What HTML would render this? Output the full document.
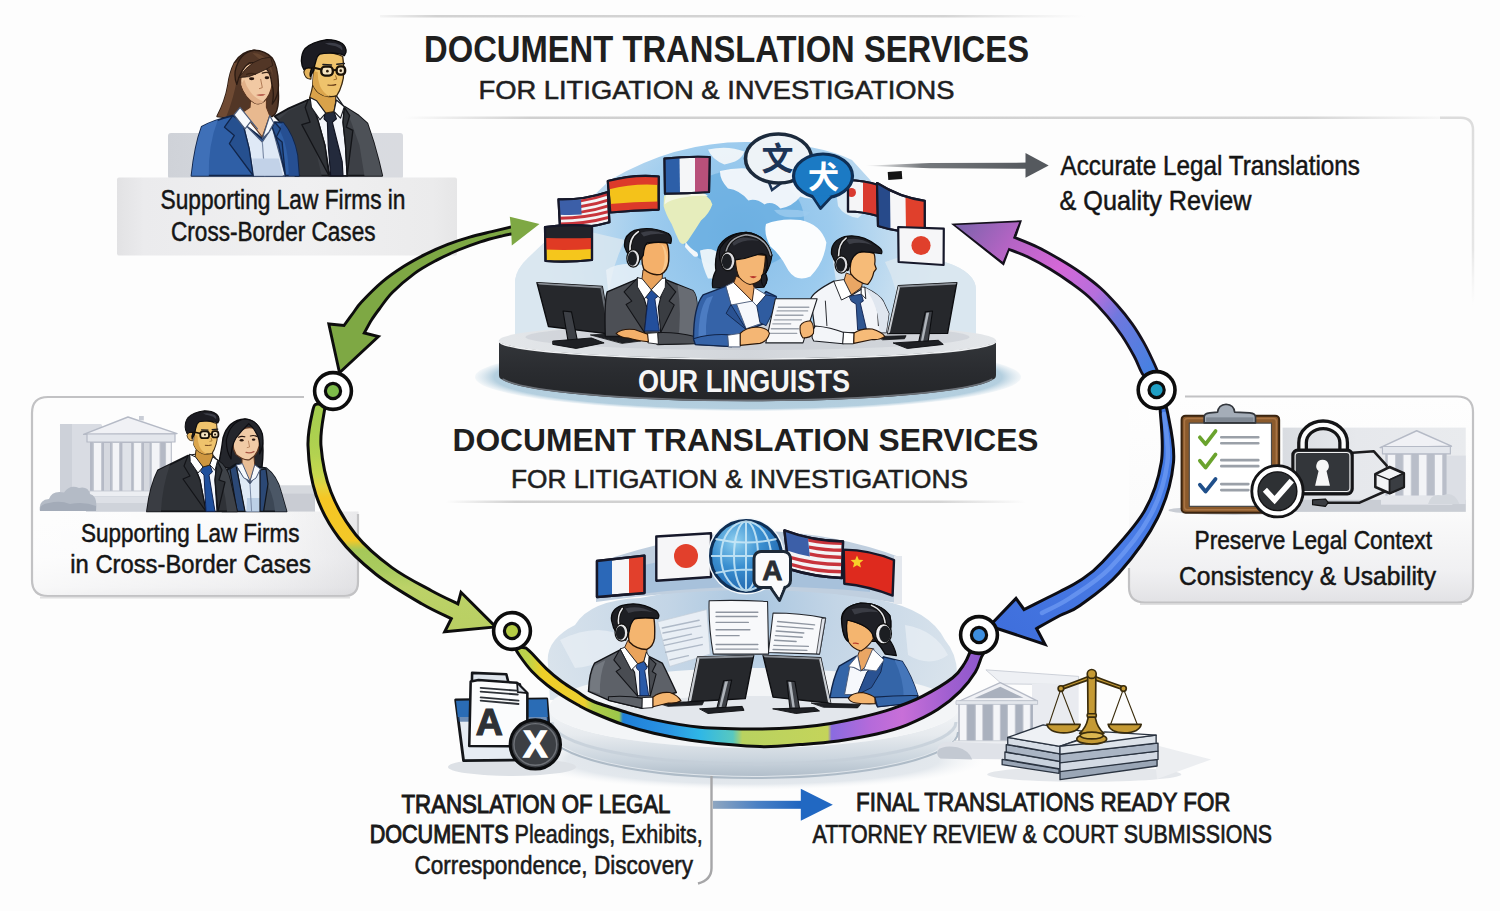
<!DOCTYPE html>
<html lang="en"><head><meta charset="utf-8"><title>Document Translation Services for Litigation &amp; Investigations</title>
<style>
html,body{margin:0;padding:0;background:#fdfdfd;}
svg{display:block}
text{font-family:"Liberation Sans","Noto Sans CJK SC",sans-serif;}
</style></head><body>
<svg width="1500" height="911" viewBox="0 0 1500 911">
<defs>
  <linearGradient id="fadeR" x1="0" x2="1" y1="0" y2="0"><stop offset="0" stop-color="#d2d2d2" stop-opacity="0.2"/><stop offset="0.08" stop-color="#d2d2d2"/><stop offset="0.8" stop-color="#d4d4d4"/><stop offset="1" stop-color="#e0e0e0" stop-opacity="0"/></linearGradient>
  <linearGradient id="fadeBoth" x1="0" x2="1" y1="0" y2="0"><stop offset="0" stop-color="#d0d0d0" stop-opacity="0"/><stop offset="0.12" stop-color="#d0d0d0"/><stop offset="0.85" stop-color="#d4d4d4"/><stop offset="1" stop-color="#d8d8d8" stop-opacity="0"/></linearGradient>
  <linearGradient id="fadeDown" x1="0" x2="0" y1="0" y2="1"><stop offset="0" stop-color="#dcdcdc"/><stop offset="0.7" stop-color="#e6e6e6"/><stop offset="1" stop-color="#eeeeee" stop-opacity="0"/></linearGradient>
  <linearGradient id="cardFill" x1="0" x2="0" y1="0" y2="1"><stop offset="0" stop-color="#ffffff"/><stop offset="0.6" stop-color="#fbfbfb"/><stop offset="1" stop-color="#e9e9eb"/></linearGradient>
  <linearGradient id="labelFill" x1="0" x2="1" y1="0" y2="0"><stop offset="0" stop-color="#e4e4e6"/><stop offset="0.5" stop-color="#f1f1f2"/><stop offset="1" stop-color="#e9e9ea"/></linearGradient>
  <linearGradient id="grayArrow" x1="0" x2="1" y1="0" y2="0"><stop offset="0" stop-color="#55595e" stop-opacity="0"/><stop offset="0.35" stop-color="#55595e" stop-opacity="0.8"/><stop offset="1" stop-color="#55595e"/></linearGradient>
</defs>

<rect x="0" y="0" width="1500" height="911" fill="#fdfdfd"/>
<!-- frame lines -->
<rect x="380" y="15" width="705" height="2.5" fill="url(#fadeR)"/>
<rect x="404" y="116.5" width="1060" height="2.5" fill="url(#fadeBoth)"/>
<path d="M1440,117.7 H1461 Q1473,118 1473,130 V305" fill="none" stroke="url(#fadeDown)" stroke-width="2.5"/>
<rect x="446" y="500.5" width="580" height="2.5" fill="url(#fadeBoth)"/>
<!-- top-left label -->
<defs>
 <linearGradient id="tlPanel" x1="0" x2="1" y1="0" y2="0"><stop offset="0" stop-color="#cfd2d8"/><stop offset="0.5" stop-color="#d8dbe1"/><stop offset="1" stop-color="#d9dbe0"/></linearGradient>
 <linearGradient id="tlLabel" x1="0" x2="1" y1="0" y2="0"><stop offset="0" stop-color="#e2e2e4"/><stop offset="0.08" stop-color="#ebebed"/><stop offset="0.55" stop-color="#f0f0f1"/><stop offset="0.93" stop-color="#ebebec"/><stop offset="1" stop-color="#e6e6e7"/></linearGradient>
 <linearGradient id="lcLabel" x1="0" x2="0" y1="0" y2="1"><stop offset="0" stop-color="#fafafa"/><stop offset="0.55" stop-color="#f6f6f7"/><stop offset="0.9" stop-color="#e9e9eb"/><stop offset="1" stop-color="#dcdcdf"/></linearGradient>
 <linearGradient id="lcLabelX" x1="0" x2="1" y1="0" y2="0"><stop offset="0" stop-color="#ffffff" stop-opacity="0.7"/><stop offset="0.6" stop-color="#ffffff" stop-opacity="0.3"/><stop offset="1" stop-color="#d8d8dc" stop-opacity="0.5"/></linearGradient>
 <linearGradient id="lcTopFade" x1="0" x2="1" y1="0" y2="0"><stop offset="0" stop-color="#c4c4c4"/><stop offset="0.9" stop-color="#c8c8c8"/><stop offset="1" stop-color="#d0d0d0" stop-opacity="0.2"/></linearGradient>
</defs>
<rect x="168" y="133" width="235" height="46" rx="3" fill="url(#tlPanel)"/>
<rect x="117" y="177.5" width="340" height="78" rx="2" fill="url(#tlLabel)"/>
<!-- left card -->
<path d="M32,413 Q32,397 48,397 H330 V512 H358 V582 Q358,596 344,596 H48 Q32,596 32,580 Z" fill="#fdfdfd"/>
<path d="M33,511.5 H358.5 V583 Q358.5,596 345,596 H48 Q33,596 33,581 Z" fill="url(#lcLabel)"/>
<path d="M33,511.5 H358.5 V583 Q358.5,596 345,596 H48 Q33,596 33,581 Z" fill="url(#lcLabelX)"/>
<path d="M304,397 H48 Q32,397 32,413 V580 Q32,596 48,596 H344 Q358,596 358,582 V514" fill="none" stroke="#c2c2c4" stroke-width="2.2"/>
<path d="M40,597.5 H350" stroke="#d4d4d6" stroke-width="2" opacity="0.7"/>
<!-- right card -->
<defs>
 <linearGradient id="rcFill" x1="0" x2="0" y1="0" y2="1"><stop offset="0" stop-color="#fefefe"/><stop offset="0.55" stop-color="#fbfbfb"/><stop offset="0.85" stop-color="#f0f0f2"/><stop offset="1" stop-color="#e2e2e5"/></linearGradient>
</defs>
<path d="M1129,412 Q1129,396.5 1145,396.5 H1457 Q1473,396.5 1473,412 V587 Q1473,602.5 1457,602.5 H1145 Q1129,602.5 1129,587 Z" fill="url(#rcFill)"/>
<path d="M1185,396.5 H1457 Q1473,396.5 1473,412 V587 Q1473,602.5 1457,602.5 H1145 Q1129,602.5 1129,587 V568" fill="none" stroke="#c2c2c4" stroke-width="2.2"/>
<path d="M1140,604 H1462" stroke="#d4d4d6" stroke-width="2" opacity="0.7"/>

<!-- top-left people: coordinates in 6.073x zoom space, offset (180,30) -->
<g transform="translate(180,30) scale(0.16467)" stroke-linejoin="round" stroke-linecap="round">
 <!-- MAN -->
 <path d="M700,885 L650,600 L575,524 L660,476 L778,424 L900,560 L1000,466 L1085,520 L1138,568 L1178,690 L1208,800 L1228,885 Z" fill="#3d4046" stroke="#131418" stroke-width="11"/>
 <path d="M1000,466 L1085,520 L1138,568 L1178,690 L1208,800 L1228,885 L1120,885 L1090,700 L1040,560 Z" fill="#4d5157"/>
 <path d="M600,545 L660,490 L770,440 L800,620 L860,885 L730,885 L690,700 Z" fill="#33363b"/>
 <!-- shirt -->
 <path d="M792,420 L835,540 L880,700 L910,885 L1015,885 L1005,700 L990,560 L998,470 L950,400 Z" fill="#f4f6fb" stroke="#1a1c22" stroke-width="8"/>
 <!-- lapels -->
 <path d="M778,424 L760,470 L790,560 L740,575 L905,885 L880,700 L835,540 L792,420 Z" fill="#2f3237" stroke="#131418" stroke-width="8"/>
 <path d="M998,468 L1030,520 L1010,590 L1050,610 L1015,885 L1005,700 L990,560 Z" fill="#2f3237" stroke="#131418" stroke-width="8"/>
 <!-- tie -->
 <path d="M880,505 L935,495 L950,540 L925,560 L985,800 L990,885 L915,885 L900,700 L895,560 L875,540 Z" fill="#232a3c" stroke="#0f1220" stroke-width="7"/>
 <!-- neck -->
 <path d="M806,335 L800,365 L786,415 L885,505 L935,495 L945,440 L946,400 Z" fill="#d9a24a" stroke="#3a2810" stroke-width="7"/>
 <!-- shirt collar -->
 <path d="M790,410 L830,430 L885,505 L850,545 L798,470 Z" fill="#ffffff" stroke="#1a1c22" stroke-width="7"/>
 <path d="M950,425 L998,466 L975,535 L935,495 Z" fill="#ffffff" stroke="#1a1c22" stroke-width="7"/>
 <!-- ear -->
 <path d="M800,232 Q760,222 752,255 Q760,300 795,298 Z" fill="#e4b35c" stroke="#3a2810" stroke-width="7"/>
 <!-- face -->
 <path d="M828,150 Q812,200 812,244 L806,329 Q820,365 846,384 Q880,408 910,404 Q935,405 952,398 Q972,370 983,329 Q996,290 993,262 Q996,220 988,160 Q900,120 828,150 Z" fill="#efc36c" stroke="#3a2810" stroke-width="8"/>
 <path d="M812,250 L806,329 Q820,365 846,384 Q880,408 910,404 Q870,385 850,340 Q835,300 836,255 Z" fill="#dba54c"/>
 <!-- hair -->
 <path d="M737,188 Q738,140 760,112 Q800,72 892,58 Q950,58 985,82 Q1012,105 1008,135 L998,156 Q985,146 966,145 Q930,138 908,140 Q870,140 849,146 Q830,160 826,185 L818,215 L812,246 L792,282 Q786,262 800,232 Q772,222 752,240 Q738,215 737,188 Z" fill="#1c1c22" stroke="#0a0a0c" stroke-width="8"/>
 <path d="M880,80 Q930,70 975,92 Q990,105 985,125 Q965,100 930,95 Q900,92 880,80 Z" fill="#3c3e48"/>
 <!-- glasses -->
 <g fill="#f6ecd6" fill-opacity="0.8" stroke="#1a1208" stroke-width="14">
  <rect x="858" y="223" width="70" height="54" rx="22"/>
  <rect x="951" y="221" width="52" height="50" rx="20"/>
 </g>
 <path d="M928,245 L951,243 M858,240 L808,228" stroke="#1a1208" stroke-width="12" fill="none"/>
 <!-- features -->
 <path d="M868,210 L920,212 M952,208 L998,204" stroke="#1c1c20" stroke-width="9"/>
 <circle cx="895" cy="250" r="8" fill="#2a1a0a"/><circle cx="976" cy="247" r="8" fill="#2a1a0a"/>
 <path d="M945,278 L952,298 L935,302" stroke="#9a6a28" stroke-width="6" fill="none"/>
 <path d="M898,334 Q925,338 946,332" stroke="#5a3010" stroke-width="7" fill="none"/>

 <!-- WOMAN -->
 <!-- hair back -->
 <path d="M450,123 Q370,130 330,200 Q300,260 290,340 Q275,430 225,525 L300,535 L560,525 Q595,510 598,420 Q600,330 585,250 Q560,140 450,123 Z" fill="#523626" stroke="#2a1a12" stroke-width="9"/>
 <path d="M330,200 Q300,260 290,340 Q275,430 225,525 L280,530 Q330,400 345,300 Q350,230 380,190 Z" fill="#6f4a33"/>
 <!-- neck -->
 <path d="M430,400 L425,470 L380,500 L500,650 L545,520 L525,470 L525,400 Z" fill="#e8b98f" stroke="#5a3520" stroke-width="7"/>
 <!-- blazer -->
 <path d="M70,885 Q90,700 132,588 Q200,550 320,520 L500,660 L575,560 L625,562 Q690,640 712,760 L722,885 Z" fill="#2f5fa6" stroke="#11254a" stroke-width="11"/>
 <path d="M70,885 Q90,700 132,588 Q180,560 230,545 Q170,700 175,885 Z" fill="#3f70b8"/>
 <path d="M625,562 Q690,640 712,760 L722,885 L660,885 Q660,700 600,600 Z" fill="#264f92"/>
 <!-- blouse -->
 <path d="M380,560 L500,680 L560,590 L640,885 L445,885 L420,720 Z" fill="#dfe9f6" stroke="#4a5a78" stroke-width="7"/>
 <path d="M500,680 L515,885" stroke="#7a8aa5" stroke-width="7" fill="none"/>
 <path d="M445,885 L440,780 L600,780 L625,885 Z" fill="#c2d2e8"/>
 <!-- lapels -->
 <path d="M320,520 L270,590 L330,640 L300,690 L445,885 L420,720 L380,560 Z" fill="#26508f" stroke="#11254a" stroke-width="8"/>
 <path d="M575,560 L610,600 L585,650 L620,680 L640,885 L600,700 L560,590 Z" fill="#26508f" stroke="#11254a" stroke-width="8"/>
 <!-- collar -->
 <path d="M365,470 L328,515 L395,600 L430,555 L470,600 Z" fill="#f6f9fd" stroke="#4a5a78" stroke-width="7"/>
 <path d="M545,520 L570,565 L540,620 L500,660 Z" fill="#f6f9fd" stroke="#4a5a78" stroke-width="7"/>
 <!-- face -->
 <path d="M385,225 Q360,290 372,345 Q395,410 455,445 Q485,455 510,435 Q550,395 560,330 Q565,260 540,215 Q460,170 385,225 Z" fill="#f1c9a3" stroke="#5a3520" stroke-width="7"/>
 <path d="M372,330 Q395,410 455,445 Q485,455 510,435 Q460,420 430,380 Q400,340 390,300 Z" fill="#e2b088"/>
 <!-- hair front -->
 <path d="M450,123 Q360,135 335,250 Q330,300 345,330 Q365,240 420,200 Q480,190 520,230 Q550,260 558,330 Q575,380 560,450 Q600,400 598,330 Q595,220 560,170 Q520,125 450,123 Z" fill="#523626" stroke="#2a1a12" stroke-width="8"/>
 <path d="M440,140 Q490,140 530,180 Q560,220 565,280 Q545,215 500,190 Q470,170 440,140 Z" fill="#654530"/>
  <path d="M548,165 Q440,168 358,288 Q420,292 472,262 Q532,236 562,216 Z" fill="#523626" stroke="#2a1a12" stroke-width="5"/>
 <!-- features -->
 <path d="M405,270 Q430,258 458,268 M500,262 Q525,252 548,262" stroke="#3a2416" stroke-width="8" fill="none"/>
 <ellipse cx="435" cy="296" rx="16" ry="9" fill="#2a1810"/><ellipse cx="528" cy="290" rx="14" ry="9" fill="#2a1810"/>
 <path d="M490,300 L500,350 L482,356" stroke="#b07a55" stroke-width="6" fill="none"/>
 <path d="M462,395 Q490,385 520,390 Q495,410 462,395 Z" fill="#b8604f"/>
</g>

<!-- left card illustration: coordinates in 5x zoom space, offset (30,400) -->
<g transform="translate(30,400) scale(0.2)" stroke-linejoin="round" stroke-linecap="round">
 <!-- ground band right -->
 <rect x="1245" y="428" width="180" height="130" fill="#c9ccd3"/>
 <rect x="1245" y="428" width="180" height="40" fill="#d6d9de"/>
 <!-- courthouse -->
 <rect x="150" y="120" width="210" height="360" rx="8" fill="#d9dce3"/>
 <rect x="150" y="120" width="60" height="360" fill="#cdd1d9"/>
 <rect x="300" y="205" width="410" height="255" fill="#b4b9c5"/>
 <g fill="#f3f4f7" stroke="#c3c7d0" stroke-width="5">
  <rect x="318" y="212" width="40" height="245"/><rect x="412" y="212" width="36" height="245"/><rect x="520" y="212" width="38" height="245"/><rect x="608" y="212" width="42" height="245"/><rect x="680" y="212" width="26" height="245"/>
 </g>
 <rect x="370" y="215" width="30" height="240" fill="#d5d8df"/><rect x="462" y="215" width="44" height="240" fill="#dfe2e8"/><rect x="570" y="215" width="28" height="240" fill="#d5d8df"/>
 <path d="M268,172 L490,85 L735,168 Z" fill="#f0f1f5" stroke="#b5bac6" stroke-width="7"/>
 <rect x="545" y="80" width="24" height="22" fill="#c9cdd6"/>
 <rect x="285" y="170" width="440" height="40" fill="#e3e6ec" stroke="#b5bac6" stroke-width="6"/>
 <rect x="300" y="455" width="420" height="28" fill="#eceef2" stroke="#c3c7d0" stroke-width="4"/>
 <rect x="280" y="483" width="480" height="75" fill="#dde0e6"/>
 <rect x="280" y="515" width="480" height="43" fill="#cfd3da"/>
 <!-- bushes -->
 <path d="M50,555 Q40,500 95,495 Q110,450 170,462 Q200,420 245,440 Q290,430 300,470 Q340,480 330,555 Z" fill="#b4bbc6"/>
 <path d="M50,555 Q45,520 95,515 Q150,500 200,520 Q270,505 330,530 L330,555 Z" fill="#a3abb8"/>
 <!-- WOMAN -->
 <path d="M1075,95 Q990,100 965,190 Q955,270 940,330 L1010,345 L1160,335 Q1170,250 1160,180 Q1140,100 1075,95 Z" fill="#24262c" stroke="#0c0c10" stroke-width="7"/>
 <path d="M985,350 L1030,320 L1180,340 Q1235,380 1255,460 L1283,557 L960,557 Z" fill="#3c4755" stroke="#11151c" stroke-width="8"/>
 <path d="M1180,340 Q1235,380 1255,460 L1283,557 L1225,557 Q1215,450 1170,400 Z" fill="#4b5766"/>
 <path d="M1035,340 L1100,420 L1150,350 L1165,557 L1075,557 Z" fill="#dfeaf6" stroke="#4a5a78" stroke-width="5"/>
 <path d="M1082,557 L1085,490 L1160,490 L1163,557 Z" fill="#bcd0e6"/>
 <path d="M1100,420 L1108,557" stroke="#7a8aa5" stroke-width="5" fill="none"/>
 <path d="M1000,345 L1030,325 L1075,557 L1035,557 Z" fill="#2b4875" stroke="#11151c" stroke-width="6"/>
 <path d="M1150,350 L1180,345 L1190,420 L1168,557 L1150,557 Z" fill="#2b4875" stroke="#11151c" stroke-width="6"/>
 <path d="M1060,285 L1060,330 L1100,410 L1125,340 L1120,285 Z" fill="#e8bd95" stroke="#5a3520" stroke-width="5"/>
 <path d="M1032,325 L1062,318 L1100,405 L1070,390 Z M1125,325 L1152,345 L1130,390 L1100,410 Z" fill="#f6f9fd" stroke="#4a5a78" stroke-width="5"/>
 <path d="M1022,180 Q1005,235 1030,272 Q1070,305 1098,298 Q1135,278 1146,230 Q1150,180 1128,145 Q1075,120 1022,180 Z" fill="#f1cba6" stroke="#5a3520" stroke-width="6"/>
 <path d="M1075,95 Q1000,108 982,200 Q980,255 1005,295 Q1005,230 1030,190 Q1060,150 1094,118 Q1130,150 1146,200 Q1152,240 1148,270 Q1172,225 1162,170 Q1140,100 1075,95 Z" fill="#24262c" stroke="#0c0c10" stroke-width="6"/>
 <path d="M1042,186 Q1058,178 1074,184 M1102,180 Q1118,174 1134,182" stroke="#2a1810" stroke-width="6" fill="none"/><ellipse cx="1058" cy="201" rx="10" ry="6" fill="#2a1810"/><ellipse cx="1118" cy="198" rx="9" ry="6" fill="#2a1810"/><path d="M1092,205 L1098,235 L1086,238" stroke="#b07a55" stroke-width="4" fill="none"/>
 <path d="M1080,262 Q1100,268 1120,258" stroke="#a85545" stroke-width="6" fill="none"/>
 <!-- MAN -->
 <path d="M585,557 Q600,430 640,352 L790,278 L880,350 L935,300 Q985,330 1000,400 L1035,557 Z" fill="#2f3237" stroke="#131418" stroke-width="9"/>
 <path d="M935,300 Q985,330 1000,400 L1035,557 L985,557 Q975,430 930,350 Z" fill="#3e4248"/>
 <path d="M640,352 L700,322 Q660,440 655,557 L585,557 Q600,430 640,352 Z" fill="#3a3d43"/>
 <path d="M800,275 L850,400 L880,557 L935,557 L925,400 L935,300 L900,260 Z" fill="#f4f6fb" stroke="#1a1c22" stroke-width="6"/>
 <path d="M790,278 L770,330 L800,380 L765,395 L880,557 L850,400 L800,275 Z" fill="#2d3035" stroke="#131418" stroke-width="6"/>
 <path d="M935,300 L960,350 L945,400 L975,410 L940,557 L925,400 Z" fill="#2d3035" stroke="#131418" stroke-width="6"/>
 <path d="M860,335 L900,325 L912,360 L895,375 L925,557 L880,557 L870,375 L855,360 Z" fill="#1f4f9c" stroke="#0f2250" stroke-width="5"/>
 <path d="M830,250 L825,290 L865,335 L900,325 L915,290 L912,250 Z" fill="#cf973f" stroke="#3a2810" stroke-width="5"/>
 <path d="M800,272 L828,285 L865,335 L840,365 L802,310 Z M915,285 L938,302 L925,352 L900,325 Z" fill="#ffffff" stroke="#1a1c22" stroke-width="5"/>
</g>
 <path d="M888,176 L902,175 M838,172 L810,162" stroke="#141414" stroke-width="8" fill="none"/>
 <path d="M875,245 Q895,248 912,242" stroke="#5a3010" stroke-width="5" fill="none"/>
</g>
<g transform="translate(202.2,432.5) scale(0.76) translate(-323.8,-68.1) translate(180,30) scale(0.16467)" stroke-linejoin="round" stroke-linecap="round">
 <!-- ear -->
 <path d="M800,232 Q760,222 752,255 Q760,300 795,298 Z" fill="#e4b35c" stroke="#3a2810" stroke-width="7"/>
 <!-- face -->
 <path d="M828,150 Q812,200 812,244 L806,329 Q820,365 846,384 Q880,408 910,404 Q935,405 952,398 Q972,370 983,329 Q996,290 993,262 Q996,220 988,160 Q900,120 828,150 Z" fill="#efc36c" stroke="#3a2810" stroke-width="8"/>
 <path d="M812,250 L806,329 Q820,365 846,384 Q880,408 910,404 Q870,385 850,340 Q835,300 836,255 Z" fill="#dba54c"/>
 <!-- hair -->
 <path d="M737,188 Q738,140 760,112 Q800,72 892,58 Q950,58 985,82 Q1012,105 1008,135 L998,156 Q985,146 966,145 Q930,138 908,140 Q870,140 849,146 Q830,160 826,185 L818,215 L812,246 L792,282 Q786,262 800,232 Q772,222 752,240 Q738,215 737,188 Z" fill="#1c1c22" stroke="#0a0a0c" stroke-width="8"/>
 <path d="M880,80 Q930,70 975,92 Q990,105 985,125 Q965,100 930,95 Q900,92 880,80 Z" fill="#3c3e48"/>
 <!-- glasses -->
 <g fill="#f6ecd6" fill-opacity="0.8" stroke="#1a1208" stroke-width="14">
  <rect x="858" y="223" width="70" height="54" rx="22"/>
  <rect x="951" y="221" width="52" height="50" rx="20"/>
 </g>
 <path d="M928,245 L951,243 M858,240 L808,228" stroke="#1a1208" stroke-width="12" fill="none"/>
 <!-- features -->
 <path d="M868,210 L920,212 M952,208 L998,204" stroke="#1c1c20" stroke-width="9"/>
 <circle cx="895" cy="250" r="8" fill="#2a1a0a"/><circle cx="976" cy="247" r="8" fill="#2a1a0a"/>
 <path d="M945,278 L952,298 L935,302" stroke="#9a6a28" stroke-width="6" fill="none"/>
 <path d="M898,334 Q925,338 946,332" stroke="#5a3010" stroke-width="7" fill="none"/>

</g>

<!-- right card illustration: coordinates in 3.505x zoom space, offset (1100,370) -->
<g transform="translate(1100,370) scale(0.2853)" stroke-linejoin="round" stroke-linecap="round">
 <defs><linearGradient id="rcBg" x1="0" x2="1" y1="0" y2="0"><stop offset="0" stop-color="#d9dce1"/><stop offset="0.4" stop-color="#e6e8ec"/><stop offset="1" stop-color="#e9ebee"/></linearGradient></defs>
 <rect x="640" y="202" width="642" height="295" fill="url(#rcBg)"/>
 <rect x="640" y="455" width="642" height="42" fill="#c9cdd4"/>
 <ellipse cx="470" cy="492" rx="230" ry="16" fill="#c9cdd4"/>
 <!-- courthouse -->
 <rect x="1215" y="300" width="67" height="170" fill="#dcdfe5"/>
 <rect x="1000" y="285" width="215" height="160" fill="#b9bec9"/>
 <g fill="#f3f4f7" stroke="#c3c7d0" stroke-width="3"><rect x="1008" y="295" width="28" height="148"/><rect x="1063" y="295" width="28" height="148"/><rect x="1118" y="295" width="28" height="148"/><rect x="1173" y="295" width="28" height="148"/></g>
 <path d="M982,272 L1110,213 L1232,267 Z" fill="#f0f1f5" stroke="#b5bac6" stroke-width="5"/>
 <rect x="990" y="268" width="238" height="26" fill="#e3e6ec" stroke="#b5bac6" stroke-width="4"/>
 <rect x="985" y="440" width="250" height="32" fill="#e4e6eb"/>
 <path d="M1150,470 Q1160,430 1200,440 Q1240,420 1260,470 Z" fill="#d3d7dd"/>
 <!-- cable + cube -->
 <path d="M885,290 L960,285 L1005,335 M1000,425 L910,465 L800,465" stroke="#1c1c1e" stroke-width="9" fill="none"/>
 <path d="M965,365 L1015,340 L1065,362 L1065,410 L1015,432 L965,410 Z" fill="#f2f3f5" stroke="#1c1c1e" stroke-width="9"/>
 <path d="M965,365 L1015,385 L1065,362 M1015,385 L1015,432" stroke="#1c1c1e" stroke-width="5" fill="none"/>
 <path d="M1015,385 L1065,362 L1065,410 L1015,432 Z" fill="#3a3d42" stroke="#1c1c1e" stroke-width="6"/>
 <path d="M745,455 L790,452 L800,465 L790,478 L745,472 Z" fill="#3a3d42" stroke="#111" stroke-width="4"/>
 <!-- lock -->
 <path d="M710,300 V255 A72,63 0 0 1 854,255 V300" fill="none" stroke="#141416" stroke-width="38"/>
 <path d="M710,300 V255 A72,63 0 0 1 854,255 V300" fill="none" stroke="#fbfbfb" stroke-width="15"/>
 <rect x="675" y="280" width="210" height="155" rx="18" fill="#33363a" stroke="#141416" stroke-width="9"/>
 <rect x="684" y="289" width="192" height="137" rx="12" fill="none" stroke="#f0f0f0" stroke-width="4"/>
 <path d="M780,315 a22,22 0 0 1 14,39 l12,52 h-52 l12,-52 a22,22 0 0 1 14,-39 Z" fill="#f7f7f7"/>
 <!-- clipboard -->
 <rect x="286" y="160" width="342" height="340" rx="14" fill="#8b5a2c" stroke="#3a2410" stroke-width="7"/>
 <rect x="296" y="170" width="322" height="320" rx="10" fill="none" stroke="#a87445" stroke-width="5"/>
 <rect x="313" y="186" width="288" height="292" fill="#ffffff" stroke="#4a4a4a" stroke-width="4"/>
 <path d="M365,185 V165 Q365,152 385,150 L412,148 Q415,122 442,120 Q470,122 472,148 L525,150 Q545,152 545,165 V185 Z" fill="#a4adb8" stroke="#33373d" stroke-width="6"/>
 <rect x="372" y="166" width="166" height="16" fill="#7f8893"/>
 <g stroke="#9aa0a8" stroke-width="9" fill="none"><path d="M425,236 H555 M425,257 H555 M425,316 H555 M425,337 H555 M425,400 H520 M425,421 H520"/></g>
 <g fill="none" stroke-width="13"><path d="M350,236 L370,260 L405,214" stroke="#6aa32d"/><path d="M350,318 L370,342 L405,296" stroke="#6aa32d"/><path d="M350,402 L370,426 L405,382" stroke="#1f4f8a"/></g>
 <!-- check circle -->
 <circle cx="622" cy="425" r="90" fill="#ffffff" stroke="#141416" stroke-width="10"/>
 <circle cx="622" cy="425" r="68" fill="#2e3134" stroke="#141416" stroke-width="5"/>
 <path d="M578,420 L612,456 L672,388" fill="none" stroke="#ffffff" stroke-width="20" stroke-linejoin="miter" stroke-linecap="butt"/>
</g>

<!-- TOP PLATFORM -->
<defs>
 <radialGradient id="tpGlobe" gradientUnits="userSpaceOnUse" cx="740" cy="235" r="200"><stop offset="0" stop-color="#86bde8"/><stop offset="0.45" stop-color="#9ccbee"/><stop offset="0.8" stop-color="#c4ddf0"/><stop offset="1" stop-color="#d6e4ee"/></radialGradient>
 <linearGradient id="tpBand" x1="0" x2="0" y1="0" y2="1"><stop offset="0" stop-color="#33363a"/><stop offset="0.5" stop-color="#2a2c30"/><stop offset="1" stop-color="#232528"/></linearGradient>
 <linearGradient id="tpTop" x1="0" x2="1" y1="0" y2="0"><stop offset="0" stop-color="#e4e7ea"/><stop offset="0.5" stop-color="#d2d6db"/><stop offset="1" stop-color="#e4e7ea"/></linearGradient>
 <clipPath id="tpClip"><path d="M515,342 L515,280 Q517,268 528,258 L610,180 Q675,142 745,142 Q815,142 852,160 L945,262 Q976,272 976,290 L976,342 Z"/></clipPath>
 <radialGradient id="tpShadow" cx="0.5" cy="0.5" r="0.5"><stop offset="0" stop-color="#a9c6d8"/><stop offset="0.93" stop-color="#b4cfdf"/><stop offset="1" stop-color="#c9dce8" stop-opacity="0.2"/></radialGradient>
</defs>
<ellipse cx="748" cy="377" rx="273" ry="34" fill="url(#tpShadow)"/>
<path d="M515,342 L515,280 Q517,268 528,258 L610,180 Q675,142 745,142 Q815,142 852,160 L945,262 Q976,272 976,290 L976,342 Z" fill="url(#tpGlobe)"/>
<g clip-path="url(#tpClip)">
 <!-- side panels paler -->
 <path d="M515,342 V250 L560,225 L625,240 Q600,290 612,342 Z" fill="#dbe7f0" opacity="0.8"/>
 <path d="M976,342 V255 L935,245 L885,262 Q905,300 895,342 Z" fill="#dbe7f0" opacity="0.8"/>
 <!-- continents (zoom 5x offset 600,130) -->
 <g transform="translate(600,130) scale(0.2)">
  <ellipse cx="700" cy="450" rx="320" ry="250" fill="#5ba6de" opacity="0.6"/>
  <path d="M320,330 Q400,296 470,308 Q545,320 562,372 Q545,420 505,452 Q475,500 445,545 Q420,585 398,560 Q378,520 358,470 Q328,420 318,380 Z" fill="#e6edbc"/>
  <path d="M330,320 Q400,290 470,302 Q520,310 540,330 Q470,325 400,340 Q350,350 322,372 Z" fill="#f4f7e6"/>
  <path d="M428,560 Q450,592 486,612 Q500,640 470,632 Q445,610 425,585 Z" fill="#f3f7fa"/>
  <path d="M540,98 Q640,76 722,108 Q705,160 622,172 Q560,150 540,98 Z" fill="#f0f5f9" opacity="0.95"/>
  <path d="M600,205 Q700,180 792,200 L822,120 Q900,88 1002,108 Q1085,150 1152,262 L1100,332 Q1050,352 1002,332 Q962,382 902,392 Q862,352 822,372 Q782,340 742,352 Q700,300 640,292 Q598,250 600,205 Z" fill="#f4f8fb" opacity="0.95"/>
  <path d="M870,400 Q960,392 1050,410 Q1040,440 960,436 Q900,440 870,400 Z" fill="#9ccbee" opacity="0.8"/>
  <path d="M830,470 Q900,440 1002,450 Q1102,470 1132,562 Q1122,662 1052,732 Q982,762 942,702 Q900,620 852,582 Q818,520 830,470 Z" fill="#fbfdfe"/>
  <path d="M500,602 Q560,580 602,622 Q622,682 582,742 L540,742 Q510,682 500,602 Z" fill="#f4f8fb" opacity="0.9"/>
  <path d="M1180,300 Q1260,290 1320,340 Q1340,400 1290,440 Q1220,430 1190,380 Z" fill="#eef4f8" opacity="0.8"/>
  <path d="M30,700 Q110,650 230,680 Q330,720 300,790 L40,800 Z" fill="#eaf1f7" opacity="0.8"/>
  <path d="M1160,620 Q1250,590 1340,630 L1340,760 L1180,760 Z" fill="#eaf1f7" opacity="0.7"/>
 </g>
</g>
<!-- flags left -->
<g stroke="#16182a" stroke-width="2.2" stroke-linejoin="round">
 <!-- USA -->
 <path d="M558.5,199.4 Q584,200 607.8,192 L609.4,222.3 Q586,229 560,227.5 Z" fill="#f4f4f6"/>
 <g stroke="none" fill="#c8343c"><path d="M581,199.5 Q595,197.5 608,192.6 L608.1,195.6 Q595,200.2 581,202.2 Z"/><path d="M581,205 Q595,203 608.3,198.4 L608.5,201.4 Q595,206 581,208 Z"/><path d="M581,210.7 Q595,208.7 608.6,204.2 L608.8,207.2 Q595,211.6 581,213.6 Z"/><path d="M559.6,216.8 Q585,216.6 609,210 L609.1,213 Q585,219.6 559.8,219.8 Z"/><path d="M559.9,222.4 Q585,222.4 609.2,215.8 L609.3,218.8 Q586,225.4 560,225.4 Z"/></g>
 <path d="M558.5,199.4 Q570,200 581,199.5 L581.6,214.6 Q570,215.2 559.3,214.7 Z" fill="#3c5fa8" stroke="none"/>
 <path d="M558.5,199.4 Q584,200 607.8,192 L609.4,222.3 Q586,229 560,227.5 Z" fill="none"/>
 <!-- Germany -->
 <path d="M545,227 Q568,224 592,226 L592,260 Q568,262.5 545.5,261 Z" fill="#f5c61c"/>
 <path d="M545,227 Q568,224 592,226 L592,249 Q568,250.5 545.3,249.5 Z" fill="#e03a24" stroke="none"/>
 <path d="M545,227 Q568,224 592,226 L592,238 Q568,238.5 545.2,238 Z" fill="#22232a" stroke="none"/>
 <path d="M545,227 Q568,224 592,226 L592,260 Q568,262.5 545.5,261 Z" fill="none"/>
 <!-- Spain -->
 <path d="M607.8,181 Q634,174 658.7,176.5 L658.7,209.6 Q634,210 610.3,212.5 Z" fill="#f4c21a"/>
 <path d="M607.8,181 Q634,174 658.7,176.5 L658.7,185 Q634,183 608.4,189.5 Z" fill="#dc3a2a" stroke="none"/>
 <path d="M609.6,204 Q634,201.5 658.7,201.5 L658.7,209.6 Q634,210 610.3,212.5 Z" fill="#dc3a2a" stroke="none"/>
 <path d="M607.8,181 Q634,174 658.7,176.5 L658.7,209.6 Q634,210 610.3,212.5 Z" fill="none"/>
 <!-- France -->
 <path d="M664.5,158.7 Q688,156 709.7,157 L709,192 Q688,193.5 665,193.7 Z" fill="#f5f6f8"/>
 <path d="M664.5,158.7 L679.5,157.4 L680,193.6 L665,193.7 Z" fill="#2d5fa8" stroke="none"/>
 <path d="M695,156.8 L709.7,157 L709,192 L695,193 Z" fill="#b8507a" stroke="none"/>
 <path d="M664.5,158.7 Q688,156 709.7,157 L709,192 Q688,193.5 665,193.7 Z" fill="none"/>
</g>
<!-- flags right -->
<g stroke="#16182a" stroke-width="2.2" stroke-linejoin="round">
 <path d="M848,180 Q864,180.5 878.5,185 L878,216 Q862,211.5 848,211.5 Z" fill="#f5f5f7"/>
 <path d="M863,181 Q871,182.5 878.5,185 L878,216 Q870,213 863,212 Z" fill="#d93a30" stroke="none"/>
 <circle cx="851.5" cy="192.5" r="4.5" fill="#d93a30" stroke="none"/>
 <path d="M848,180 Q864,180.5 878.5,185 L878,216 Q862,211.5 848,211.5 Z" fill="none"/>
 <path d="M877,183 Q900,197.5 924.7,200.8 L924.7,232.5 Q900,233 878,226 Z" fill="#f6f6f8"/>
 <path d="M877,183 Q883,187.5 890,191.2 L890.5,230.2 Q884,228.5 878,226 Z" fill="#274a8a" stroke="none"/>
 <path d="M905.5,197.5 Q915,199.8 924.7,200.8 L924.7,232.5 Q915,232.8 906,232 Z" fill="#e0402c" stroke="none"/>
 <path d="M877,183 Q900,197.5 924.7,200.8 L924.7,232.5 Q900,233 878,226 Z" fill="none"/>
 <path d="M898.2,227 L943.8,228.7 L943.6,265 L898.6,262 Z" fill="#f6f6f8"/>
 <circle cx="921" cy="245.5" r="9.6" fill="#e0402c" stroke="none"/>
</g>
<!-- speech bubbles -->
<path d="M768,180 L772,190 L784,181 Z" fill="#f3f7fa" stroke="#1d3557" stroke-width="2.5"/>
<ellipse cx="778.5" cy="158.5" rx="33" ry="24.5" fill="#eef3f7" stroke="#1c2a3c" stroke-width="3.6"/>
<text x="777.5" y="170" font-size="32" text-anchor="middle" fill="#1d3557" font-weight="bold" style='font-family:"Noto Sans CJK SC","Liberation Sans",sans-serif'>文</text>
<path d="M811,194 L820.5,208.5 L833,195 Z" fill="#1b7ac4" stroke="#0f2f55" stroke-width="2.8" stroke-linejoin="round"/>
<ellipse cx="823" cy="176" rx="29.5" ry="22" fill="#1b7ac4" stroke="#0f2f55" stroke-width="3.2"/>
<path d="M813,195 L820.5,206 L831,195.5 Z" fill="#1b7ac4"/>
<text x="823.5" y="187.5" font-size="31" text-anchor="middle" fill="#ffffff" font-weight="bold" style='font-family:"Noto Sans CJK SC","Liberation Sans",sans-serif'>犬</text>
<!-- desk top surface -->
<ellipse cx="747.5" cy="340.5" rx="248.5" ry="18" fill="url(#tpTop)"/>
<ellipse cx="747.5" cy="337" rx="222" ry="13" fill="#c6cbd1" opacity="0.55"/>

<!-- TOP PLATFORM PEOPLE; zoom 6.505x -->
<g transform="translate(530,215) scale(0.15373)" stroke-linejoin="round" stroke-linecap="round">
 <!-- left monitor -->
 <path d="M45,440 L470,465 L525,775 L120,725 Z" fill="#26282c" stroke="#0c0d10" stroke-width="9"/>
 <path d="M60,452 L458,476 L470,465 L45,440 Z" fill="#8a8f96"/>
 <path d="M458,476 L510,765 L525,775 L470,465 Z" fill="#6a6f76"/>
 <path d="M215,625 L270,630 L312,835 L250,835 Z" fill="#3d4046" stroke="#0c0d10" stroke-width="7"/>
 <path d="M150,820 L400,800 L482,832 L300,868 L150,842 Z" fill="#1e2024" stroke="#0c0d10" stroke-width="6"/>
 <!-- keyboard -->
 <path d="M395,780 L560,770 L720,820 L600,835 Z" fill="#1e2024" stroke="#0c0d10" stroke-width="5"/>
 <!-- man: suit -->
 <path d="M490,790 Q482,570 502,500 L690,420 L780,600 L870,415 L1060,492 Q1088,525 1086,600 L1072,835 L830,842 L760,790 Z" fill="#4c4f55" stroke="#131418" stroke-width="9"/>
 <path d="M960,455 L1060,492 Q1088,525 1086,600 L1072,835 L960,838 Q990,640 960,455 Z" fill="#686c73"/>
 <!-- shirt -->
 <path d="M700,410 L745,760 L850,760 L880,410 L790,470 Z" fill="#f4f6fb" stroke="#1a1c22" stroke-width="6"/>
 <!-- lapels -->
 <path d="M690,420 L612,500 L662,560 L625,582 L745,765 L760,600 L700,410 Z" fill="#3a3d42" stroke="#131418" stroke-width="7"/>
 <path d="M870,415 L948,500 L905,560 L938,585 L850,765 L835,600 L880,410 Z" fill="#3a3d42" stroke="#131418" stroke-width="7"/>
 <!-- tie -->
 <path d="M745,492 L820,484 L832,530 L812,545 L842,755 L745,755 L768,545 L748,532 Z" fill="#234f9c" stroke="#0f2250" stroke-width="6"/>
 <!-- neck -->
 <path d="M735,360 L728,420 L790,490 L860,420 L862,360 Z" fill="#e9a35c" stroke="#3a2010" stroke-width="6"/>
 <!-- collar -->
 <path d="M700,408 L730,415 L790,488 L745,545 L700,470 Z M862,412 L882,410 L880,470 L845,540 L790,488 Z" fill="#ffffff" stroke="#1a1c22" stroke-width="6"/>
 <!-- face -->
 <path d="M735,200 Q718,300 740,352 Q790,398 850,386 Q897,365 902,300 Q907,220 890,183 Q800,168 735,200 Z" fill="#f4b06a" stroke="#2a1608" stroke-width="9"/>
 <path d="M850,190 Q890,200 895,300 Q892,350 850,380 Q880,330 875,260 Q870,210 850,190 Z" fill="#f9c88c"/>
 <!-- hair -->
 <path d="M615,205 Q608,130 680,100 Q780,68 900,120 Q928,142 916,184 Q850,170 762,182 Q740,205 737,262 L705,305 Q640,285 615,205 Z" fill="#1e1f24" stroke="#0a0a0c" stroke-width="8"/>
 <path d="M720,115 Q800,90 880,125 Q800,115 740,140 Z" fill="#3c3e46"/>
 <!-- headphones -->
 <path d="M652,245 Q640,150 705,108" fill="none" stroke="#111" stroke-width="24"/>
 <path d="M652,245 Q640,150 705,108" fill="none" stroke="#e6e6e8" stroke-width="11"/>
 <ellipse cx="672" cy="282" rx="42" ry="57" fill="#e2e2e4" stroke="#111" stroke-width="8"/>
 <ellipse cx="666" cy="284" rx="30" ry="46" fill="#1c1e22"/>
 <!-- arm, hand -->
 <path d="M830,765 Q950,760 1072,790 L1072,838 L830,842 Z" fill="#4c4f55" stroke="#131418" stroke-width="7"/>
 <path d="M762,770 L830,765 L835,840 L770,832 Z" fill="#ffffff" stroke="#1a1c22" stroke-width="6"/>
 <path d="M560,770 Q600,735 680,745 L765,775 L770,825 Q680,815 640,800 Q590,800 560,770 Z" fill="#f4b06a" stroke="#2a1608" stroke-width="7"/>
</g>
<g transform="translate(680,215) scale(0.15373)" stroke-linejoin="round" stroke-linecap="round">
 <!-- woman hair back -->
 <path d="M430,113 Q300,118 250,210 Q222,300 234,360 Q203,420 213,472 L330,480 L545,470 Q582,425 556,382 Q578,330 596,262 Q560,125 430,113 Z" fill="#1f2026" stroke="#0a0a0c" stroke-width="8"/>
 <!-- blazer -->
 <path d="M88,805 Q88,600 150,520 L300,462 L470,600 L560,498 L625,530 L600,610 L560,700 L420,760 L335,855 L100,842 Z" fill="#3563a8" stroke="#11254a" stroke-width="9"/>
 <path d="M120,800 Q120,620 175,540 L215,525 Q160,640 170,800 Z" fill="#4c7cc2"/>
 <!-- blouse -->
 <path d="M345,520 L430,740 L545,700 L520,560 L470,540 Z" fill="#f6f8fc" stroke="#4a5a78" stroke-width="6"/>
 <path d="M300,462 L348,438 L470,560 L335,585 Z" fill="#ffffff" stroke="#4a5a78" stroke-width="6"/>
 <path d="M480,470 L562,520 L500,592 L470,560 Z" fill="#ffffff" stroke="#4a5a78" stroke-width="6"/>
 <path d="M562,520 L628,532 L600,640 L560,720 L520,700 L500,592 Z" fill="#2f5ca0" stroke="#11254a" stroke-width="6"/>
 <path d="M330,585 L300,640 L430,745 Z" fill="#2a5292" stroke="#11254a" stroke-width="6"/>
 <!-- neck -->
 <path d="M365,400 L350,440 L470,560 L482,470 L470,440 Z" fill="#eaa664" stroke="#3a2010" stroke-width="6"/>
 <!-- face -->
 <path d="M360,288 Q365,370 385,405 Q420,445 455,452 Q500,445 525,420 Q550,380 556,262 Q450,250 360,288 Z" fill="#f4b674" stroke="#2a1608" stroke-width="7"/>
 <path d="M452,400 Q475,392 500,400 Q478,422 452,400 Z" fill="#b8382c"/>
 <!-- hair front -->
 <path d="M430,113 Q320,118 262,215 Q250,260 262,300 Q300,300 360,292 Q430,285 490,262 Q535,242 560,262 Q578,330 556,382 Q590,330 598,262 Q560,125 430,113 Z" fill="#1f2026" stroke="#0a0a0c" stroke-width="7"/>
 <path d="M330,160 Q420,130 520,170 Q430,150 350,200 Z" fill="#3a3c44"/>
 <path d="M556,382 Q580,425 545,468 Q522,440 532,392 Z" fill="#1f2026" stroke="#0a0a0c" stroke-width="6"/>
 <!-- headphones -->
 <path d="M298,250 Q310,150 430,128 Q560,140 590,260" fill="none" stroke="#111" stroke-width="22"/>
 <path d="M298,250 Q310,150 430,128 Q560,140 590,260" fill="none" stroke="#9a9da4" stroke-width="10"/>
 <ellipse cx="312" cy="300" rx="46" ry="62" fill="#dcdce0" stroke="#111" stroke-width="8"/>
 <ellipse cx="305" cy="302" rx="33" ry="50" fill="#1c1e22"/>
</g>
<g transform="translate(800,215) scale(0.15373)" stroke-linejoin="round" stroke-linecap="round">
 <!-- right monitor -->
 <path d="M640,460 L1020,440 L960,770 L570,772 Z" fill="#26282c" stroke="#0c0d10" stroke-width="9"/>
 <path d="M640,460 L1020,440 L1012,452 L650,472 Z" fill="#8a8f96"/>
 <path d="M640,460 L650,472 L585,765 L570,772 Z" fill="#c9cdd2"/>
 <path d="M815,630 L862,625 L832,835 L770,835 Z" fill="#3d4046" stroke="#0c0d10" stroke-width="7"/>
 <path d="M822,636 L840,634 L800,828 L785,828 Z" fill="#aeb3ba"/>
 <path d="M608,832 L900,815 L932,842 L700,868 Z" fill="#1e2024" stroke="#0c0d10" stroke-width="6"/>
 <path d="M505,790 L690,785 L680,805 L540,812 Z" fill="#1e2024" stroke="#0c0d10" stroke-width="5"/>
 <!-- shirt -->
 <path d="M70,545 Q85,500 220,430 L330,525 L420,470 Q520,520 542,562 L578,640 L560,765 L100,765 Z" fill="#f3f5f9" stroke="#1a1c22" stroke-width="8"/>
 <path d="M165,560 L175,720 M500,560 L510,720" stroke="#1a1c22" stroke-width="6" fill="none"/>
 <path d="M420,470 Q520,520 542,562 L578,640 L560,765 L515,765 Q520,600 420,470 Z" fill="#dfe6ef"/>
 <!-- tie -->
 <path d="M322,528 L400,515 L412,560 L392,572 L432,742 L375,748 L365,580 L336,562 Z" fill="#2f5590" stroke="#0f2250" stroke-width="6"/>
 <!-- neck -->
 <path d="M300,380 L285,430 L330,522 L400,472 L410,420 Z" fill="#eaa664" stroke="#3a2010" stroke-width="6"/>
 <!-- collar -->
 <path d="M222,430 L285,420 L335,520 L272,552 Z M400,468 L422,470 L428,545 L400,515 Z" fill="#ffffff" stroke="#1a1c22" stroke-width="6"/>
 <!-- face -->
 <path d="M345,258 Q318,330 330,382 Q372,442 440,452 Q470,422 480,372 L496,350 L486,320 Q492,270 480,250 Q400,228 345,258 Z" fill="#f6bb78" stroke="#2a1608" stroke-width="8"/>
 <!-- hair -->
 <path d="M205,252 Q198,170 290,140 Q400,118 502,200 Q542,226 530,252 Q470,240 400,236 Q352,250 332,300 L312,362 Q232,342 205,252 Z" fill="#1e1f24" stroke="#0a0a0c" stroke-width="8"/>
 <path d="M300,160 Q390,140 470,195 Q390,170 320,190 Z" fill="#3c3e46"/>
 <!-- headphones -->
 <path d="M252,285 Q245,190 300,150" fill="none" stroke="#111" stroke-width="22"/>
 <path d="M252,285 Q245,190 300,150" fill="none" stroke="#e6e6e8" stroke-width="10"/>
 <ellipse cx="270" cy="322" rx="42" ry="56" fill="#dcdce0" stroke="#111" stroke-width="8"/>
 <ellipse cx="264" cy="324" rx="30" ry="45" fill="#1c1e22"/>
 <!-- arm -->
 <path d="M100,722 Q200,730 285,765 L280,838 L90,820 Q60,780 100,722 Z" fill="#f3f5f9" stroke="#1a1c22" stroke-width="7"/>
 <path d="M285,762 L352,768 L348,838 L280,838 Z" fill="#ffffff" stroke="#1a1c22" stroke-width="6"/>
 <path d="M352,768 Q400,735 470,742 Q530,760 552,790 Q520,815 470,810 L350,835 Z" fill="#f6bb78" stroke="#2a1608" stroke-width="7"/>
</g>
<g transform="translate(680,215) scale(0.15373)" stroke-linejoin="round" stroke-linecap="round">
 <!-- paper -->
 <path d="M620,545 L892,545 L800,832 L558,832 Z" fill="#f7f8fa" stroke="#1a1c22" stroke-width="7"/>
 <g stroke="#9da3ad" stroke-width="9"><path d="M640,600 H838 M632,624 H830 M622,652 H800 M612,682 H790 M604,708 H720 M594,740 H770 M586,770 H760"/></g>
 <!-- sleeve, cuff, hands -->
 <path d="M88,805 Q200,770 330,780 L335,855 L100,842 Z" fill="#3563a8" stroke="#11254a" stroke-width="7"/>
 <path d="M312,782 L392,770 L392,858 L318,858 Z" fill="#ffffff" stroke="#4a5a78" stroke-width="6"/>
 <path d="M392,770 Q420,735 500,728 Q570,735 582,770 Q570,820 520,835 L392,848 Z" fill="#f4b674" stroke="#2a1608" stroke-width="7"/>
 <path d="M782,720 Q800,690 850,688 Q875,720 868,770 Q850,800 800,800 Q775,770 782,720 Z" fill="#f4b674" stroke="#2a1608" stroke-width="7"/>
</g>

<path d="M499,340.5 A248.5,18 0 0 0 996,340.5 L996,375 Q996,378.5 993,379.5 A248.5,25.7 0 0 1 502,379.5 Q499,378.5 499,375 Z" fill="url(#tpBand)"/>
<path d="M502.5,379 A248.5,25.7 0 0 0 992.5,379" fill="none" stroke="#6c7178" stroke-width="1.6"/>
<path d="M499,341 A248.5,18 0 0 0 996,341" fill="none" stroke="#eef0f2" stroke-width="1.6"/>
<text x="638" y="392.4" font-size="32" font-weight="bold" fill="#f6f6f6" textLength="212" lengthAdjust="spacingAndGlyphs">OUR LINGUISTS</text>

<!-- BOTTOM PLATFORM -->
<defs>
 <linearGradient id="bpSide" x1="0" x2="0" y1="0" y2="1"><stop offset="0" stop-color="#f4f6f8"/><stop offset="0.4" stop-color="#e6eaee"/><stop offset="0.75" stop-color="#cbd5de"/><stop offset="1" stop-color="#b2bfcb"/></linearGradient>
 <radialGradient id="bpGlobe" cx="0.35" cy="0.3" r="0.8"><stop offset="0" stop-color="#8fd0f0"/><stop offset="0.45" stop-color="#3a8fd0"/><stop offset="1" stop-color="#1c5fa8"/></radialGradient>
 <radialGradient id="bpMap" gradientUnits="userSpaceOnUse" cx="752" cy="610" r="210"><stop offset="0" stop-color="#a9c6e0"/><stop offset="0.4" stop-color="#c3d5e6"/><stop offset="1" stop-color="#d9e3ec"/></radialGradient>
 <radialGradient id="bpShadow" cx="0.5" cy="0.5" r="0.5"><stop offset="0" stop-color="#d5dde4"/><stop offset="0.8" stop-color="#e3e8ed"/><stop offset="1" stop-color="#f4f6f8" stop-opacity="0"/></radialGradient>
</defs>
<ellipse cx="753" cy="760" rx="232" ry="30" fill="url(#bpShadow)"/>
<!-- world map backdrop -->
<path d="M548,664 Q545,640 575,625 Q590,600 640,598 Q700,585 752,588 Q830,585 880,600 Q930,610 945,640 Q962,660 955,690 L550,700 Z" fill="url(#bpMap)"/>
<path d="M560,640 Q600,620 630,640 Q610,665 575,668 Z M905,625 Q935,630 948,655 Q930,668 908,655 Z" fill="#e9eff5" opacity="0.7"/>
<!-- disc -->
<path d="M549,708 A204.5,40 0 0 0 958,708 L958,730 A204.5,46 0 0 1 549,730 Z" fill="url(#bpSide)"/>
<path d="M549,732 A204.5,46 0 0 0 958,732" fill="none" stroke="#aebbc7" stroke-width="2"/>
<path d="M552,722 A202,42 0 0 0 956,722" fill="none" stroke="#c4ced8" stroke-width="3" opacity="0.8"/>
<ellipse cx="753.5" cy="708" rx="204.5" ry="40" fill="#f3f5f7"/>
<ellipse cx="753.5" cy="712" rx="150" ry="16" fill="#dfe3e8" opacity="0.8"/>
<!-- backdrop panel behind flags -->
<path d="M596,563 Q680,534 752,531 Q830,531 902,558 L902,604 Q830,590 752,590 Q680,590 596,602 Z" fill="#c0cfdf"/>
<path d="M640,566 Q700,552 752,552 Q820,552 870,566 L870,592 Q752,580 640,594 Z" fill="#9dbbd8" opacity="0.7"/>
<rect x="894" y="556" width="8" height="48" fill="#e4e8ee"/>
<!-- flags -->
<g stroke="#16182a" stroke-width="2.4" stroke-linejoin="round">
 <path d="M597,561 L644.4,555.6 L644.4,593 L597,597 Z" fill="#f6f6f8"/>
 <path d="M597,561 L612,559.3 L612,595.8 L597,597 Z" fill="#2b68b8" stroke="none"/>
 <path d="M629,557.4 L644.4,555.6 L644.4,593 L629,594.3 Z" fill="#e2402c" stroke="none"/>
 <path d="M597,561 L644.4,555.6 L644.4,593 L597,597 Z" fill="none"/>
 <path d="M656.3,536.5 L711,533.3 L711,577 L656.3,580.7 Z" fill="#f6f6f8"/>
 <circle cx="686" cy="556" r="12" fill="#e2402c" stroke="none"/>
 <!-- USA -->
 <path d="M784.4,530.4 Q812,541 843,541.5 L842,578 Q815,577 789,569 Z" fill="#f4f4f6"/>
 <g stroke="none" fill="#c8343c"><path d="M808,538.5 Q825,541.5 843,541.5 L842.9,545 Q825,545 808.3,541.8 Z"/><path d="M808.8,545.4 Q825,548.5 842.8,548.6 L842.7,552 Q825,552 809,548.8 Z"/><path d="M809.3,552.3 Q825,555.5 842.6,555.7 L842.5,559.2 Q825,559 809.6,555.8 Z"/><path d="M787.4,555 Q815,563 842.4,562.8 L842.3,566.3 Q815,566.5 787.8,558.5 Z"/><path d="M788.2,562 Q815,570 842.2,570 L842.1,573.5 Q815,573.5 788.6,565.5 Z"/></g>
 <path d="M784.4,530.4 Q796,535.5 808,538.5 L809.8,556.5 Q797,554 787,550.5 Z" fill="#3c5fa8" stroke="none"/>
 <path d="M784.4,530.4 Q812,541 843,541.5 L842,578 Q815,577 789,569 Z" fill="none"/>
 <!-- China -->
 <path d="M843.7,549.6 Q870,550 894,560 L892.6,595.6 Q868,586 844.3,583.7 Z" fill="#de2a1e"/>
</g>
<path d="M857,555.5 l1.8,4.2 4.6,.4 -3.5,3 1.1,4.5 -4,-2.4 -4,2.4 1.1,-4.5 -3.5,-3 4.6,-.4 z" fill="#f7d02a"/>
<!-- globe -->
<circle cx="746" cy="556" r="38.5" fill="#f4f8fb"/>
<circle cx="746" cy="556" r="35.5" fill="url(#bpGlobe)" stroke="#0f2f55" stroke-width="3"/>
<g fill="none" stroke="#cdeaf8" stroke-width="2" opacity="0.85">
 <ellipse cx="746" cy="556" rx="12" ry="34.5"/><ellipse cx="746" cy="556" rx="25" ry="34.5"/><path d="M746,521.5 V590.5 M711,556 H781 M715.5,539 Q746,546 776.5,539 M715.5,573 Q746,566 776.5,573"/>
</g>
<!-- A bubble -->
<path d="M769.5,586 L779.5,600.5 L785.5,586 Z" fill="#fafbfc" stroke="#1c2836" stroke-width="3" stroke-linejoin="round"/>
<rect x="754" y="551.5" width="36.5" height="36" rx="7" fill="#fafbfc" stroke="#1c2836" stroke-width="3"/>
<path d="M771,585.5 L779.3,597.5 L784,585.5 Z" fill="#fafbfc"/>
<text x="772.3" y="580.3" font-size="28" font-weight="bold" text-anchor="middle" fill="#2a2e34" stroke="#2a2e34" stroke-width="0.8">A</text>

<!-- BOTTOM PLATFORM PEOPLE; zoom 6.505x -->
<g transform="translate(570,580) scale(0.15373)" stroke-linejoin="round" stroke-linecap="round">
 <!-- papers -->
 <path d="M572,272 L890,192 L912,482 L650,562 Z" fill="#eef2f7" stroke="#c6ced9" stroke-width="5" opacity="0.9"/>
 <g stroke="#a9b4c3" stroke-width="9" opacity="0.9"><path d="M600,312 L840,262 M605,345 L850,298 M610,392 L790,352 M615,425 L860,372 M622,470 L860,420 M650,520 L770,492"/></g>
 <path d="M905,135 Q1100,128 1285,140 L1292,482 L932,482 Q900,300 905,135 Z" fill="#f8f9fb" stroke="#23262c" stroke-width="7"/>
 <g stroke="#8f96a1" stroke-width="9"><path d="M950,210 H1222 M950,237 H1218 M950,276 H1160 M950,324 H1170 M950,362 H1100 M950,420 H1222 M950,450 H1222"/></g>
 <!-- monitor -->
 <path d="M830,500 L1195,490 L1140,772 L770,792 Z" fill="#26282c" stroke="#0c0d10" stroke-width="9"/>
 <path d="M830,500 L1195,490 L1188,503 L842,513 Z" fill="#8a8f96"/>
 <path d="M830,500 L842,513 L788,785 L770,792 Z" fill="#c9cdd2"/>
 <path d="M1000,655 L1052,650 L1012,835 L955,835 Z" fill="#3d4046" stroke="#0c0d10" stroke-width="7"/>
 <path d="M1008,660 L1028,658 L985,828 L970,828 Z" fill="#aeb3ba"/>
 <path d="M845,838 L1120,822 L1132,848 L900,868 Z" fill="#1e2024" stroke="#0c0d10" stroke-width="6"/>
 <path d="M560,798 L870,790 L860,812 L640,822 Z" fill="#1e2024" stroke="#0c0d10" stroke-width="5"/>
 <!-- man suit -->
 <path d="M120,725 Q125,600 160,540 L320,458 L430,700 L500,490 L600,540 Q640,620 692,732 L540,772 L470,835 L250,782 Z" fill="#5d6168" stroke="#131418" stroke-width="9"/>
 <path d="M160,560 L230,522 Q190,620 195,740 L130,720 Q130,620 160,560 Z" fill="#747980"/>
 <!-- shirt -->
 <path d="M330,450 L440,752 L522,752 L512,500 L470,522 Z" fill="#f4f6fb" stroke="#1a1c22" stroke-width="6"/>
 <!-- lapels -->
 <path d="M320,458 L285,520 L330,575 L300,595 L440,755 L420,600 L330,450 Z" fill="#494c52" stroke="#131418" stroke-width="7"/>
 <path d="M500,490 L560,545 L535,595 L560,612 L522,755 L512,600 L512,500 Z" fill="#494c52" stroke="#131418" stroke-width="7"/>
 <!-- tie -->
 <path d="M430,548 L482,530 L502,572 L486,590 L512,752 L455,752 L452,592 L436,578 Z" fill="#2a5aa8" stroke="#0f2250" stroke-width="6"/>
 <!-- neck -->
 <path d="M375,395 L355,440 L440,545 L482,528 L500,470 L500,420 Z" fill="#e9a35c" stroke="#3a2010" stroke-width="6"/>
 <!-- collar -->
 <path d="M328,448 L356,438 L440,545 L400,585 Z M498,470 L514,498 L510,570 L482,530 Z" fill="#ffffff" stroke="#1a1c22" stroke-width="6"/>
 <!-- face -->
 <path d="M395,258 Q372,340 385,402 Q430,452 500,452 Q542,432 550,380 Q554,300 546,250 Q470,238 395,258 Z" fill="#f4b56f" stroke="#2a1608" stroke-width="9"/>
 <!-- hair -->
 <path d="M270,262 Q262,190 340,165 Q450,133 560,200 Q588,226 572,252 Q500,240 422,250 Q392,280 386,330 L362,392 Q288,362 270,262 Z" fill="#1e1f24" stroke="#0a0a0c" stroke-width="8"/>
 <path d="M360,185 Q450,160 540,210 Q450,190 380,215 Z" fill="#3c3e46"/>
 <!-- headphones -->
 <path d="M318,300 Q305,230 340,185" fill="none" stroke="#111" stroke-width="22"/>
 <path d="M318,300 Q305,230 340,185" fill="none" stroke="#e9e9eb" stroke-width="10"/>
 <ellipse cx="335" cy="342" rx="42" ry="56" fill="#e6e6e8" stroke="#111" stroke-width="8"/>
 <ellipse cx="328" cy="344" rx="30" ry="45" fill="#1c1e22"/>
 <!-- arm -->
 <path d="M250,760 Q360,750 475,770 L470,835 L250,782 Z" fill="#5d6168" stroke="#131418" stroke-width="7"/>
 <path d="M472,765 L540,762 L540,830 L470,835 Z" fill="#ffffff" stroke="#1a1c22" stroke-width="6"/>
 <path d="M540,762 Q580,725 650,732 Q700,750 722,785 Q690,805 640,800 L540,825 Z" fill="#f4b56f" stroke="#2a1608" stroke-width="7"/>
</g>
<g transform="translate(750,580) scale(0.15373)" stroke-linejoin="round" stroke-linecap="round">
 <!-- right paper -->
 <path d="M150,215 Q320,215 492,248 L452,482 L120,472 Z" fill="#f8f9fb" stroke="#23262c" stroke-width="7"/>
 <path d="M470,250 L492,248 L452,482 L435,480 Z" fill="#dfe3ea" stroke="#23262c" stroke-width="5"/>
 <g stroke="#8f96a1" stroke-width="9"><path d="M180,270 L420,292 M175,300 L410,318 M170,332 L350,345 M165,362 L340,372 M160,392 L300,400 M155,425 L380,432 M150,452 L370,458"/></g>
 <!-- monitor -->
 <path d="M85,490 L460,505 L525,802 L150,762 Z" fill="#26282c" stroke="#0c0d10" stroke-width="9"/>
 <path d="M85,490 L460,505 L450,517 L95,503 Z" fill="#8a8f96"/>
 <path d="M460,505 L525,802 L508,795 L450,517 Z" fill="#c9cdd2"/>
 <path d="M240,655 L292,660 L322,835 L260,838 Z" fill="#3d4046" stroke="#0c0d10" stroke-width="7"/>
 <path d="M250,662 L268,664 L292,830 L276,830 Z" fill="#aeb3ba"/>
 <path d="M150,838 L420,830 L452,852 L300,868 Z" fill="#1e2024" stroke="#0c0d10" stroke-width="6"/>
 <path d="M400,800 L720,808 L700,832 L480,828 Z" fill="#1e2024" stroke="#0c0d10" stroke-width="5"/>
 <!-- woman hair back + ponytail -->
 <path d="M595,250 Q600,170 720,150 Q850,150 910,232 Q930,300 900,380 Q940,430 952,492 L880,482 Q850,430 820,400 L640,400 Q600,380 595,250 Z" fill="#1f2026" stroke="#0a0a0c" stroke-width="8"/>
 <!-- blazer -->
 <path d="M520,765 Q540,640 580,560 L692,495 L700,600 L760,600 L870,500 L990,530 Q1050,620 1092,752 L1082,795 L830,825 L800,765 Z" fill="#3465a8" stroke="#11254a" stroke-width="9"/>
 <path d="M940,520 L990,530 Q1050,620 1092,752 L1000,770 Q1000,640 940,520 Z" fill="#4576ba"/>
 <!-- blouse -->
 <path d="M650,560 L615,745 L700,745 L770,585 L720,590 Z" fill="#f6f8fc" stroke="#4a5a78" stroke-width="6"/>
 <path d="M870,500 L760,600 L700,745 L790,700 L850,600 Z" fill="#2a5292" stroke="#11254a" stroke-width="6"/>
 <!-- neck -->
 <path d="M720,440 L700,495 L722,590 L800,520 L805,450 Z" fill="#eaa664" stroke="#3a2010" stroke-width="6"/>
 <!-- collars -->
 <path d="M640,562 L700,490 L722,592 L680,570 Z M800,450 L872,520 L822,592 L742,582 Z" fill="#ffffff" stroke="#4a5a78" stroke-width="6"/>
 <!-- face -->
 <path d="M630,258 Q622,340 640,402 Q672,452 722,462 Q772,432 802,382 L792,330 Q740,288 630,258 Z" fill="#f4b56f" stroke="#2a1608" stroke-width="7"/>
 <path d="M672,412 Q690,408 705,415" stroke="#b8382c" stroke-width="7" fill="none"/>
 <!-- hair front -->
 <path d="M597,262 Q600,170 720,150 Q850,150 910,232 Q925,300 900,378 L820,400 L792,345 Q760,300 700,280 Q650,262 632,262 Q622,330 640,400 Q602,370 597,262 Z" fill="#1f2026" stroke="#0a0a0c" stroke-width="7"/>
 <path d="M660,190 Q760,165 860,215 Q760,195 680,225 Z" fill="#3a3c44"/>
 <!-- headphones -->
 <path d="M880,290 Q875,200 790,165" fill="none" stroke="#111" stroke-width="22"/>
 <path d="M880,290 Q875,200 790,165" fill="none" stroke="#e9e9eb" stroke-width="10"/>
 <ellipse cx="868" cy="350" rx="52" ry="66" fill="#eeeef0" stroke="#111" stroke-width="8"/>
 <ellipse cx="878" cy="352" rx="38" ry="54" fill="#1c1e22"/>
 <!-- forearm + hand -->
 <path d="M812,762 Q950,750 1092,752 L1082,798 L830,825 Z" fill="#3465a8" stroke="#11254a" stroke-width="7"/>
 <path d="M640,770 Q660,735 730,732 Q790,745 812,765 L815,805 Q740,808 690,800 Q650,795 640,770 Z" fill="#f4b56f" stroke="#2a1608" stroke-width="7"/>
</g>

<defs>
<linearGradient id="gLL" gradientUnits="userSpaceOnUse" x1="0" y1="409" x2="0" y2="632">
 <stop offset="0" stop-color="#a4cd4e"/><stop offset="0.2" stop-color="#b2d250"/><stop offset="0.30" stop-color="#c8d84e"/><stop offset="0.35" stop-color="#e6d23e"/><stop offset="0.40" stop-color="#f5c624"/><stop offset="0.59" stop-color="#f3c828"/><stop offset="0.63" stop-color="#a6c858"/><stop offset="0.72" stop-color="#a9cb5e"/><stop offset="0.8" stop-color="#bcd268"/><stop offset="1" stop-color="#b9cf62"/></linearGradient>
<linearGradient id="gUR" gradientUnits="userSpaceOnUse" x1="958" y1="228" x2="1158" y2="378">
 <stop offset="0" stop-color="#7f63ad"/><stop offset="0.2" stop-color="#b464c4"/><stop offset="0.42" stop-color="#d468d8"/><stop offset="0.6" stop-color="#b56fdc"/><stop offset="0.72" stop-color="#6f78de"/><stop offset="1" stop-color="#3f82e2"/></linearGradient>
<linearGradient id="gLR" gradientUnits="userSpaceOnUse" x1="1175" y1="410" x2="1000" y2="630">
 <stop offset="0" stop-color="#3c74e0"/><stop offset="0.5" stop-color="#4a7ce6"/><stop offset="1" stop-color="#3f6fdc"/></linearGradient>
<linearGradient id="gBand" gradientUnits="userSpaceOnUse" x1="512" y1="0" x2="982" y2="0">
 <stop offset="0" stop-color="#b4cf4e"/><stop offset="0.035" stop-color="#bfd44a"/><stop offset="0.065" stop-color="#efce28"/><stop offset="0.155" stop-color="#eccf30"/><stop offset="0.17" stop-color="#b0cb48"/><stop offset="0.228" stop-color="#9cc64a"/><stop offset="0.236" stop-color="#1f7fd8"/><stop offset="0.33" stop-color="#2a93e2"/><stop offset="0.40" stop-color="#2fb7e6"/><stop offset="0.47" stop-color="#58c8c0"/><stop offset="0.49" stop-color="#b9d260"/><stop offset="0.672" stop-color="#c4d45a"/><stop offset="0.68" stop-color="#8a6be0"/><stop offset="0.76" stop-color="#b46ada"/><stop offset="0.83" stop-color="#c86fd8"/><stop offset="0.93" stop-color="#a05fd0"/><stop offset="1" stop-color="#8d58cc"/></linearGradient>
<linearGradient id="gBlueArrow" x1="0" x2="1" y1="0" y2="0"><stop offset="0" stop-color="#8fa6c0"/><stop offset="0.5" stop-color="#4a80c4"/><stop offset="1" stop-color="#1d64c0"/></linearGradient>
</defs>
<path d="M514.0,226.2 C510.3,227.1 499.1,229.8 491.7,231.6 C484.3,233.4 477.0,235.0 469.7,237.1 C462.4,239.2 455.1,241.5 447.8,244.3 C440.5,247.1 433.1,250.4 425.8,254.1 C418.5,257.8 411.1,261.7 403.9,266.3 C396.7,270.9 389.6,275.7 382.5,281.6 C375.4,287.6 366.3,296.9 361.5,302.0 C356.7,307.1 356.4,308.6 353.5,312.5 C350.6,316.4 345.6,323.3 344.0,325.5 L328.8,324 L339.5,372.8 L378.4,336.6 L364.3,333.0 C365.5,330.8 369.0,324.0 371.5,320.0 C374.0,316.0 375.8,313.6 379.3,309.0 C382.8,304.4 386.5,298.4 392.3,292.5 C398.1,286.6 407.0,279.0 414.3,273.6 C421.6,268.2 429.0,264.3 436.3,260.4 C443.6,256.5 451.0,253.1 458.4,250.0 C465.8,246.9 473.1,244.2 480.4,241.8 C487.7,239.4 496.8,237.2 502.4,235.8 C508.0,234.4 512.1,234.0 514.0,233.6" fill="#7ea844" stroke="#0d0d0d" stroke-width="2.9" stroke-linejoin="miter" stroke-linecap="butt"/>
<path d="M539.5,224 L509.8,216.8 L511.2,230 L511.8,245.4 Z" fill="#7ea844"/>
<path d="M317.0,404.0 C316.3,404.9 314.5,402.6 313.0,409.6 C311.5,416.6 307.5,431.6 308.0,445.8 C308.5,460.0 310.8,479.6 316.0,495.0 C321.2,510.4 329.1,524.8 339.0,538.0 C348.9,551.2 361.8,563.0 375.6,574.0 C389.4,585.0 409.1,596.4 421.7,603.8 C434.3,611.2 446.4,616.1 451.3,618.6 L444.7,631.8 L495.7,626.9 L461,592.3 L457.9,603.8 C453.5,601.6 442.5,596.7 431.5,590.7 C420.5,584.7 404.6,576.9 392.0,567.6 C379.4,558.3 366.0,547.3 355.8,534.7 C345.6,522.1 336.8,506.8 331.0,492.0 C325.2,477.2 322.1,459.5 321.0,445.8 C319.9,432.1 323.6,416.6 324.6,409.6 C325.6,402.6 326.6,404.9 327.0,404.0 Z" fill="url(#gLL)" stroke="#0d0d0d" stroke-width="3" stroke-linejoin="miter"/>
<path d="M954.8,225 L1020,221.8 L1014.7,237.5 C1018.6,239.1 1030.3,243.6 1037.8,247.2 C1045.3,250.8 1052.6,255.1 1059.7,259.3 C1066.8,263.5 1073.7,267.7 1080.5,272.5 C1087.3,277.3 1094.3,282.5 1100.5,288.0 C1106.7,293.5 1112.2,299.6 1117.5,305.5 C1122.8,311.4 1127.6,317.4 1132.0,323.6 C1136.4,329.8 1140.4,336.5 1144.0,342.9 C1147.6,349.3 1151.2,357.1 1153.5,362.0 C1155.8,366.9 1156.6,369.2 1158.0,372.0 C1159.4,374.8 1161.3,377.8 1162.0,379.0 L1150.0,381.0 C1148.8,379.8 1145.2,378.2 1142.5,374.0 C1139.8,369.8 1137.5,362.4 1134.0,356.0 C1130.5,349.6 1126.2,342.1 1121.8,335.5 C1117.3,328.9 1112.7,322.7 1107.3,316.3 C1101.9,309.9 1095.2,302.8 1089.2,297.2 C1083.2,291.6 1077.6,287.7 1071.0,283.0 C1064.4,278.3 1056.8,273.2 1049.5,268.8 C1042.2,264.4 1034.3,260.1 1027.5,256.8 C1020.7,253.5 1011.7,250.5 1008.5,249.2 L1003.2,263.5 Z" fill="url(#gUR)" stroke="#14101c" stroke-width="2.8" stroke-linejoin="miter"/>
<path d="M957.5,225.8 L1018,223 L1002.4,260.5 Z" fill="url(#gUR)" stroke="url(#gUR)" stroke-width="1.6" stroke-linejoin="miter"/>
<path d="M1162.5,403.0 C1163.3,404.5 1165.7,402.1 1167.5,412.0 C1169.3,421.9 1175.2,444.6 1173.5,462.3 C1171.8,480.0 1166.6,499.6 1157.5,518.0 C1148.4,536.5 1131.9,558.4 1119.0,573.0 C1106.1,587.6 1089.8,598.4 1080.0,605.5 C1070.2,612.6 1067.2,611.7 1060.0,615.5 C1052.8,619.3 1040.5,626.3 1036.6,628.5 L1045,644.3 L989.5,626 L1016,598.4 L1024.0,609.5 C1027.5,607.8 1039.0,602.0 1045.0,599.0 C1051.0,596.0 1054.2,594.6 1060.0,591.5 C1065.8,588.4 1073.0,585.3 1080.0,580.5 C1087.0,575.7 1091.3,574.0 1102.0,562.5 C1112.7,551.0 1134.1,528.4 1144.0,511.7 C1153.9,495.0 1158.6,478.9 1161.3,462.3 C1164.0,445.7 1160.9,421.9 1160.3,412.0 C1159.7,402.1 1158.0,404.5 1157.5,403.0 Z" fill="url(#gLR)" stroke="#0d0d14" stroke-width="3" stroke-linejoin="miter"/>
<path d="M1163.9,414.0 C1164.5,422.1 1169.6,445.5 1167.4,462.3 C1165.2,479.1 1160.2,497.3 1150.7,514.8 C1141.2,532.3 1124.0,553.6 1110.5,567.5 C1097.0,581.4 1081.4,590.4 1070.0,598.0 C1058.6,605.6 1046.7,610.5 1042.0,613.0" fill="none" stroke="#7ea8fa" stroke-width="4.5" stroke-linecap="round" opacity="0.55"/>

<path d="M526.0,648.0 C526.9,648.8 528.1,649.5 531.5,653.0 C534.9,656.5 541.4,664.0 546.5,668.8 C551.6,673.6 556.9,678.0 562.0,681.8 C567.1,685.6 572.3,688.6 577.4,691.8 C582.5,695.0 584.9,697.8 592.5,701.0 C600.1,704.2 612.8,708.1 623.0,711.2 C633.2,714.3 640.9,716.9 653.7,719.6 C666.5,722.3 682.3,725.6 700.0,727.2 C717.7,728.8 743.3,729.0 760.0,729.0 C776.7,729.0 788.2,728.1 800.0,727.2 C811.8,726.3 820.5,725.1 830.7,723.4 C840.9,721.7 851.1,719.6 861.3,717.2 C871.5,714.8 881.6,712.3 891.8,708.8 C902.0,705.3 912.1,701.6 922.3,696.4 C932.4,691.2 945.7,683.3 952.7,677.8 C959.7,672.3 961.6,667.8 964.5,663.5 C967.4,659.2 969.1,653.9 970.0,652.0 L984.5,652.0 C984.0,652.8 983.0,653.7 981.5,657.0 C980.0,660.3 978.9,666.3 975.4,672.0 C971.9,677.7 966.5,685.1 960.2,691.4 C953.9,697.7 946.4,704.0 937.6,709.6 C928.8,715.2 917.4,720.7 907.2,724.8 C897.1,728.9 888.2,731.3 876.7,734.0 C865.2,736.7 851.1,739.1 838.3,740.9 C825.5,742.7 813.0,743.6 800.0,744.6 C787.0,745.6 776.7,747.1 760.0,746.6 C743.3,746.1 717.7,743.8 700.0,741.6 C682.3,739.4 666.7,736.0 653.9,733.2 C641.1,730.4 633.6,728.2 623.4,724.7 C613.2,721.2 600.4,715.8 592.8,712.5 C585.2,709.2 582.7,707.6 577.6,704.8 C572.5,702.0 567.5,699.1 562.4,695.8 C557.3,692.5 552.1,689.0 547.0,685.0 C541.9,681.0 536.6,676.4 532.0,671.5 C527.4,666.6 522.5,659.8 519.5,655.5 C516.5,651.2 514.9,647.6 514.0,646.0 Z" fill="url(#gBand)" stroke="#0d0d0d" stroke-width="3" stroke-linejoin="round"/>
<circle cx="333" cy="391" r="18.4" fill="#fff" stroke="#0d0d0d" stroke-width="3.6"/><circle cx="333" cy="391" r="7.6" fill="#7dbb4a" stroke="#0d0d0d" stroke-width="3.2"/>
<circle cx="1156.6" cy="390" r="18.4" fill="#fff" stroke="#0d0d0d" stroke-width="3.6"/><circle cx="1156.6" cy="390" r="7.6" fill="#1f9fc4" stroke="#0d0d0d" stroke-width="3.2"/>
<circle cx="512" cy="631" r="18.4" fill="#fff" stroke="#0d0d0d" stroke-width="3.6"/><circle cx="512" cy="631" r="7.6" fill="#b5cc45" stroke="#0d0d0d" stroke-width="3.2"/>
<circle cx="979" cy="635" r="18.4" fill="#fff" stroke="#0d0d0d" stroke-width="3.6"/><circle cx="979" cy="635" r="7.6" fill="#3d8fe0" stroke="#0d0d0d" stroke-width="3.2"/>
<path d="M864,165.8 L930,163 L1028,162.6 L1028,168.8 L930,168.2 Z" fill="url(#grayArrow)"/><path d="M1025.5,153 L1048.7,165.6 L1025.5,177.8 Z" fill="#55595e"/>
<path d="M711.5,776 V868 Q711.5,880 698,883.5" fill="none" stroke="#a6a6a8" stroke-width="2.4"/>
<rect x="713" y="800.8" width="90" height="8" fill="url(#gBlueArrow)"/><path d="M800.8,788.8 L832.8,804.8 L800.8,820.8 Z" fill="#2168c2"/>

<!-- DOC ICON: zoom 7.007x offset (440,660) -->
<ellipse cx="512" cy="767" rx="64" ry="9" fill="#dde1e6"/>
<g transform="translate(440,660) scale(0.14272)" stroke-linejoin="round" stroke-linecap="round">
 <path d="M110,280 L748,272 L770,560 L640,700 L165,705 Z" fill="#e6ecf3" stroke="#14161a" stroke-width="20"/>
 <path d="M112,285 L748,275 L756,400 L125,400 Z" fill="#2a6cb5"/>
 <path d="M125,400 L756,400 L760,430 L130,432 Z" fill="#1d4f8c" opacity="0.6"/>
 <path d="M225,90 L465,100 L480,160 L560,170 L560,560 L215,560 Z" fill="#dfe5ec" stroke="#14161a" stroke-width="18"/>
 <path d="M270,140 L540,160 L612,232 L612,605 L205,602 L215,150 Z" fill="#fbfcfd" stroke="#14161a" stroke-width="18"/>
 <path d="M540,160 L545,225 L612,232 Z" fill="#d8dde4" stroke="#14161a" stroke-width="12"/>
 <g stroke="#2e3238" stroke-width="13"><path d="M285,195 L540,215 M285,222 L545,242 M285,262 L550,285 M285,285 L550,308"/></g>
 <ellipse cx="668" cy="592" rx="176" ry="172" fill="#3c3f44" stroke="#0c0d0f" stroke-width="22"/>
 <ellipse cx="668" cy="592" rx="150" ry="146" fill="none" stroke="#7a7e85" stroke-width="10" opacity="0.8"/>
</g>
<text x="489.3" y="735" font-size="37.5" font-weight="bold" text-anchor="middle" fill="#2e3136" stroke="#2e3136" stroke-width="1.2">A</text>
<text x="535.2" y="756.5" font-size="36" font-weight="bold" text-anchor="middle" fill="#ffffff" stroke="#ffffff" stroke-width="1.4">X</text>
<!-- COURTHOUSE + STACKS + SCALES: zoom 5.357x offset (920,640) -->
<g transform="translate(920,640) scale(0.18667)" stroke-linejoin="round" stroke-linecap="round">
 <ellipse cx="880" cy="720" rx="520" ry="40" fill="#e4e7eb"/>
 <path d="M1250,560 L1560,640 L1270,745 Z" fill="#eceef1"/>
 <!-- back structure -->
 <path d="M355,160 L850,195 L850,240 L440,235 Z" fill="#eef0f4" stroke="#c9cdd6" stroke-width="5"/>
 <rect x="600" y="235" width="250" height="300" fill="#e9ebf0"/>
 <!-- colonnade -->
 <rect x="205" y="335" width="400" height="210" fill="#aab1be"/>
 <g fill="#f4f5f8" stroke="#c3c7d0" stroke-width="4"><rect x="213" y="340" width="38" height="202"/><rect x="298" y="340" width="38" height="202"/><rect x="392" y="340" width="38" height="202"/><rect x="470" y="340" width="40" height="202"/><rect x="553" y="340" width="38" height="202"/></g>
 <path d="M200,332 L430,228 L628,326 Z" fill="#f0f1f5" stroke="#b5bac6" stroke-width="7"/>
 <path d="M290,312 L430,250 L555,310 Z" fill="#a9b0bd"/>
 <rect x="195" y="325" width="435" height="20" fill="#e3e6ec" stroke="#b5bac6" stroke-width="4"/>
 <rect x="180" y="540" width="440" height="30" fill="#eceef2" stroke="#c9cdd6" stroke-width="4"/>
 <path d="M95,580 Q100,548 160,545 L560,560 L560,640 L110,635 Q85,620 95,580 Z" fill="#dfe2e8"/>
 <path d="M95,590 Q130,560 200,575 Q260,590 280,640 L110,635 Q85,620 95,590 Z" fill="#c3c9d2"/>
 <!-- stacks -->
 <g stroke="#2a3340" stroke-width="7">
  <path d="M440,640 L745,692 L745,715 L440,668 Z" fill="#9aa6b6"/>
  <path d="M455,600 L750,652 L750,690 L455,640 Z" fill="#c9d2dd"/>
  <path d="M462,560 L750,610 L750,650 L462,600 Z" fill="#aab5c4"/>
  <path d="M470,522 L750,570 L750,610 L470,560 Z" fill="#d6dde6"/>
  <path d="M470,522 L660,455 L940,500 L750,570 Z" fill="#eef1f5"/>
  <path d="M750,700 L1270,640 L1270,675 L750,748 Z" fill="#9aa6b6"/>
  <path d="M750,655 L1275,595 L1275,640 L750,705 Z" fill="#d3dae4"/>
  <path d="M750,610 L1275,552 L1275,595 L750,658 Z" fill="#aab5c4"/>
  <path d="M750,568 L1265,510 L1265,552 L750,612 Z" fill="#dde3ea"/>
  <path d="M750,568 L990,492 L1265,510 L1000,545 Z" fill="#f2f4f7"/>
 </g>
 <!-- scales -->
 <g stroke="#3a2c0c" stroke-width="9" fill="#c59a34">
  <path d="M755,262 L690,455 M755,262 L830,455 M1090,262 L1020,455 M1090,262 L1165,455" fill="none" stroke-width="6"/>
  <path d="M680,452 H858 Q850,495 770,498 Q690,495 680,452 Z"/>
  <path d="M1008,452 H1185 Q1175,495 1095,498 Q1018,495 1008,452 Z"/>
  <path d="M752,268 Q840,235 900,215 L940,215 Q1000,235 1092,268 L1092,252 Q1000,220 945,198 L895,198 Q840,220 752,252 Z"/>
  <path d="M898,190 L942,190 L940,420 Q950,470 985,500 L855,500 Q890,470 900,420 Z"/>
  <ellipse cx="920" cy="530" rx="80" ry="28"/>
  <ellipse cx="920" cy="512" rx="62" ry="18" fill="#dbb650"/>
  <circle cx="920" cy="182" r="24"/>
  <circle cx="755" cy="260" r="15"/><circle cx="1090" cy="260" r="15"/>
  <rect x="896" y="395" width="48" height="18" rx="6"/>
 </g>
</g>

<g fill="#1f1f1f">
<text x="424" y="62.3" font-size="36.3" font-weight="bold" textLength="605" lengthAdjust="spacingAndGlyphs">DOCUMENT TRANSLATION SERVICES</text>
<text x="478.5" y="98.6" font-size="26.5" textLength="476" lengthAdjust="spacingAndGlyphs" stroke="#1f1f1f" stroke-width="0.55">FOR LITIGATION &amp; INVESTIGATIONS</text>
<text x="452.5" y="450.6" font-size="31.2" font-weight="bold" textLength="586" lengthAdjust="spacingAndGlyphs">DOCUMENT TRANSLATION SERVICES</text>
<text x="511" y="487.5" font-size="25.1" textLength="457" lengthAdjust="spacingAndGlyphs" stroke="#1f1f1f" stroke-width="0.55">FOR LITIGATION &amp; INVESTIGATIONS</text>
</g>
<g fill="#151515" stroke="#151515" stroke-width="0.5">
<text x="160.5" y="209.3" font-size="27" textLength="245" lengthAdjust="spacingAndGlyphs">Supporting Law Firms in</text>
<text x="171" y="240.8" font-size="27" textLength="204.5" lengthAdjust="spacingAndGlyphs">Cross-Border Cases</text>
<text x="1060.5" y="175.1" font-size="28" textLength="299.5" lengthAdjust="spacingAndGlyphs">Accurate Legal Translations</text>
<text x="1059.5" y="209.8" font-size="28" textLength="192" lengthAdjust="spacingAndGlyphs">&amp; Quality Review</text>
<text x="81" y="541.8" font-size="26" textLength="218.5" lengthAdjust="spacingAndGlyphs">Supporting Law Firms</text>
<text x="70.3" y="572.6" font-size="26" textLength="240.5" lengthAdjust="spacingAndGlyphs">in Cross-Border Cases</text>
<text x="1194.5" y="549.2" font-size="26.2" textLength="237.5" lengthAdjust="spacingAndGlyphs">Preserve Legal Context</text>
<text x="1179" y="584.5" font-size="26.2" textLength="257" lengthAdjust="spacingAndGlyphs">Consistency &amp; Usability</text>
</g>
<g fill="#1a1a1a" stroke="#1a1a1a" stroke-width="0.7">
<text x="401.5" y="812.7" font-size="25" textLength="269" lengthAdjust="spacingAndGlyphs" stroke-width="1.0">TRANSLATION OF LEGAL</text>
<text x="369.7" y="843.4" font-size="25" textLength="333" lengthAdjust="spacingAndGlyphs"><tspan stroke-width="1.0">DOCUMENTS</tspan> <tspan stroke-width="0.55">Pleadings, Exhibits,</tspan></text>
<text x="414.5" y="874.2" font-size="25" textLength="278.5" lengthAdjust="spacingAndGlyphs" stroke-width="0.55">Correspondence, Discovery</text>
<text x="856" y="811.3" font-size="25.8" textLength="374.5" lengthAdjust="spacingAndGlyphs" stroke-width="0.9">FINAL TRANSLATIONS READY FOR</text>
<text x="812.6" y="843.3" font-size="25.8" textLength="459.5" lengthAdjust="spacingAndGlyphs">ATTORNEY REVIEW &amp; COURT SUBMISSIONS</text>
</g>

</svg>
</body></html>
